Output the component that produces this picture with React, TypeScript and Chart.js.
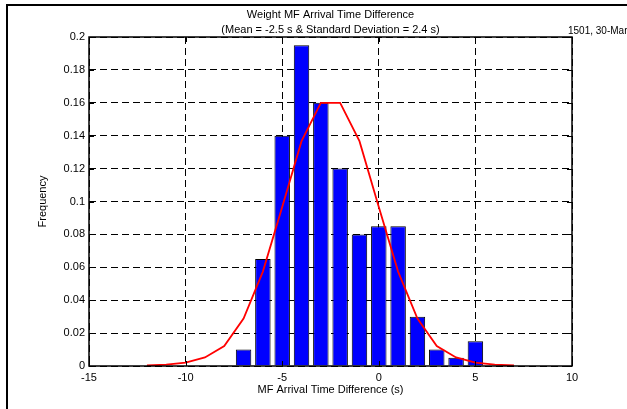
import React, { useEffect, useRef } from "react";
import { Chart, registerables } from "chart.js";

Chart.register(...registerables);

const TITLE_LINES = [
  "Weight MF Arrival Time Difference",
  "(Mean = -2.5 s & Standard Deviation = 2.4 s)",
];
const STAMP = "1501, 30-Mar";
const X_LABEL = "MF Arrival Time Difference (s)";
const Y_LABEL = "Frequency";

const BIN_CENTERS = [-7, -6, -5, -4, -3, -2, -1, 0, 1, 2, 3, 4, 5];
const BIN_FREQ = [0.01, 0.065, 0.14, 0.195, 0.16, 0.12, 0.08, 0.085, 0.085, 0.03, 0.01, 0.005, 0.015];

const FIT_X = [-12, -11, -10, -9, -8, -7, -6, -5, -4, -3, -2, -1, 0, 1, 2, 3, 4, 5, 6, 7];
const FIT_Y = [
  0.0003, 0.0008, 0.0021, 0.0052, 0.0121, 0.0288, 0.0574, 0.0966, 0.1367, 0.16,
  0.16, 0.1367, 0.0966, 0.0574, 0.0288, 0.0121, 0.0052, 0.0021, 0.0008, 0.0003,
];

const X_TICKS = [-15, -10, -5, 0, 5, 10];
const Y_TICKS = [0, 0.02, 0.04, 0.06, 0.08, 0.1, 0.12, 0.14, 0.16, 0.18, 0.2];

const FONT = "'Liberation Sans', Arial, sans-serif";

const decorPlugin = {
  id: "decor",
  beforeDraw(chart: any) {
    const ctx = chart.ctx;
    ctx.save();
    ctx.fillStyle = "#ffffff";
    ctx.fillRect(0, 0, chart.width, chart.height);
    ctx.fillStyle = "#000000";
    ctx.fillRect(6, 4, chart.width - 6, 2);
    ctx.fillRect(6, 4, 2, chart.height - 4);
    ctx.restore();
  },
  afterDraw(chart: any) {
    const ctx = chart.ctx;
    const a = chart.chartArea;
    const xs = chart.scales.x;
    const ys = chart.scales.y;
    ctx.save();
    ctx.strokeStyle = "#000";
    ctx.lineWidth = 1.5;
    ctx.setLineDash([]);
    ctx.strokeRect(a.left, a.top, a.right - a.left, a.bottom - a.top);
    ctx.lineWidth = 1;
    const tl = 5;
    ctx.beginPath();
    for (const v of Y_TICKS) {
      const y = Math.round(ys.getPixelForValue(v)) + 0.5;
      ctx.moveTo(a.left, y);
      ctx.lineTo(a.left + tl, y);
      ctx.moveTo(a.right, y);
      ctx.lineTo(a.right - tl, y);
    }
    for (const v of X_TICKS) {
      const x = Math.round(xs.getPixelForValue(v)) + 0.5;
      ctx.moveTo(x, a.bottom);
      ctx.lineTo(x, a.bottom - tl);
      ctx.moveTo(x, a.top);
      ctx.lineTo(x, a.top + tl);
    }
    ctx.stroke();

    ctx.fillStyle = "#000";
    ctx.font = `11px ${FONT}`;
    ctx.textAlign = "center";
    ctx.textBaseline = "middle";
    const cx = (a.left + a.right) / 2;
    ctx.fillText(TITLE_LINES[0], cx, 15);
    ctx.fillText(TITLE_LINES[1], cx, 30);
    ctx.fillText(X_LABEL, cx, 390);

    ctx.save();
    ctx.translate(43, (a.top + a.bottom) / 2);
    ctx.rotate(-Math.PI / 2);
    ctx.fillText(Y_LABEL, 0, 0);
    ctx.restore();

    ctx.font = `10px ${FONT}`;
    ctx.textAlign = "left";
    ctx.fillText(STAMP, 568, 31);
    ctx.restore();
  },
};

export default function App() {
  const ref = useRef<HTMLCanvasElement | null>(null);

  useEffect(() => {
    document.body.style.margin = "0";
    const canvas = ref.current;
    if (!canvas) return;
    const chart = new Chart(canvas, {
      type: "bar",
      data: {
        datasets: [
          {
            type: "line",
            data: FIT_X.map((x, i) => ({ x, y: FIT_Y[i] })),
            borderColor: "#ff0000",
            borderWidth: 1.8,
            pointRadius: 0,
            tension: 0,
            fill: false,
            order: 0,
          } as any,
          {
            type: "bar",
            data: BIN_CENTERS.map((x, i) => ({ x, y: BIN_FREQ[i] })),
            backgroundColor: "#0000ff",
            borderColor: "#000000",
            borderWidth: 1,
            barPercentage: 0.8,
            categoryPercentage: 1,
            order: 1,
          } as any,
        ],
      },
      options: {
        animation: false,
        responsive: false,
        devicePixelRatio: 1,
        layout: { padding: { left: 9, top: 37, right: 55, bottom: 8 } },
        plugins: {
          legend: { display: false },
          title: { display: false },
          tooltip: { enabled: false },
        },
        scales: {
          x: {
            type: "linear",
            min: -15,
            max: 10,
            offset: false,
            afterFit: (s: any) => {
              s.height = 35;
            },
            afterBuildTicks: (s: any) => {
              s.ticks = X_TICKS.map((v) => ({ value: v }));
            },
            grid: {
              offset: false,
              color: "#000",
              lineWidth: 1,
              drawTicks: false,
            },
            border: { display: false, dash: [7, 4] },
            ticks: {
              autoSkip: false,
              maxRotation: 0,
              padding: 5,
              color: "#000",
              font: { family: FONT, size: 11 },
              callback: (v: any) => String(v),
            },
          },
          y: {
            type: "linear",
            min: 0,
            max: 0.2,
            afterFit: (s: any) => {
              s.width = 80;
            },
            afterBuildTicks: (s: any) => {
              s.ticks = Y_TICKS.map((v) => ({ value: v }));
            },
            grid: {
              color: "#000",
              lineWidth: 1,
              drawTicks: false,
            },
            border: { display: false, dash: [7, 4] },
            ticks: {
              autoSkip: false,
              padding: 4,
              color: "#000",
              font: { family: FONT, size: 11 },
              callback: (v: any) => String(parseFloat(Number(v).toFixed(2))),
            },
          },
        },
      } as any,
      plugins: [decorPlugin],
    });
    return () => chart.destroy();
  }, []);

  return (
    <div style={{ width: 627, height: 409 }}>
      <canvas ref={ref} width={627} height={409} style={{ display: "block" }} />
    </div>
  );
}
